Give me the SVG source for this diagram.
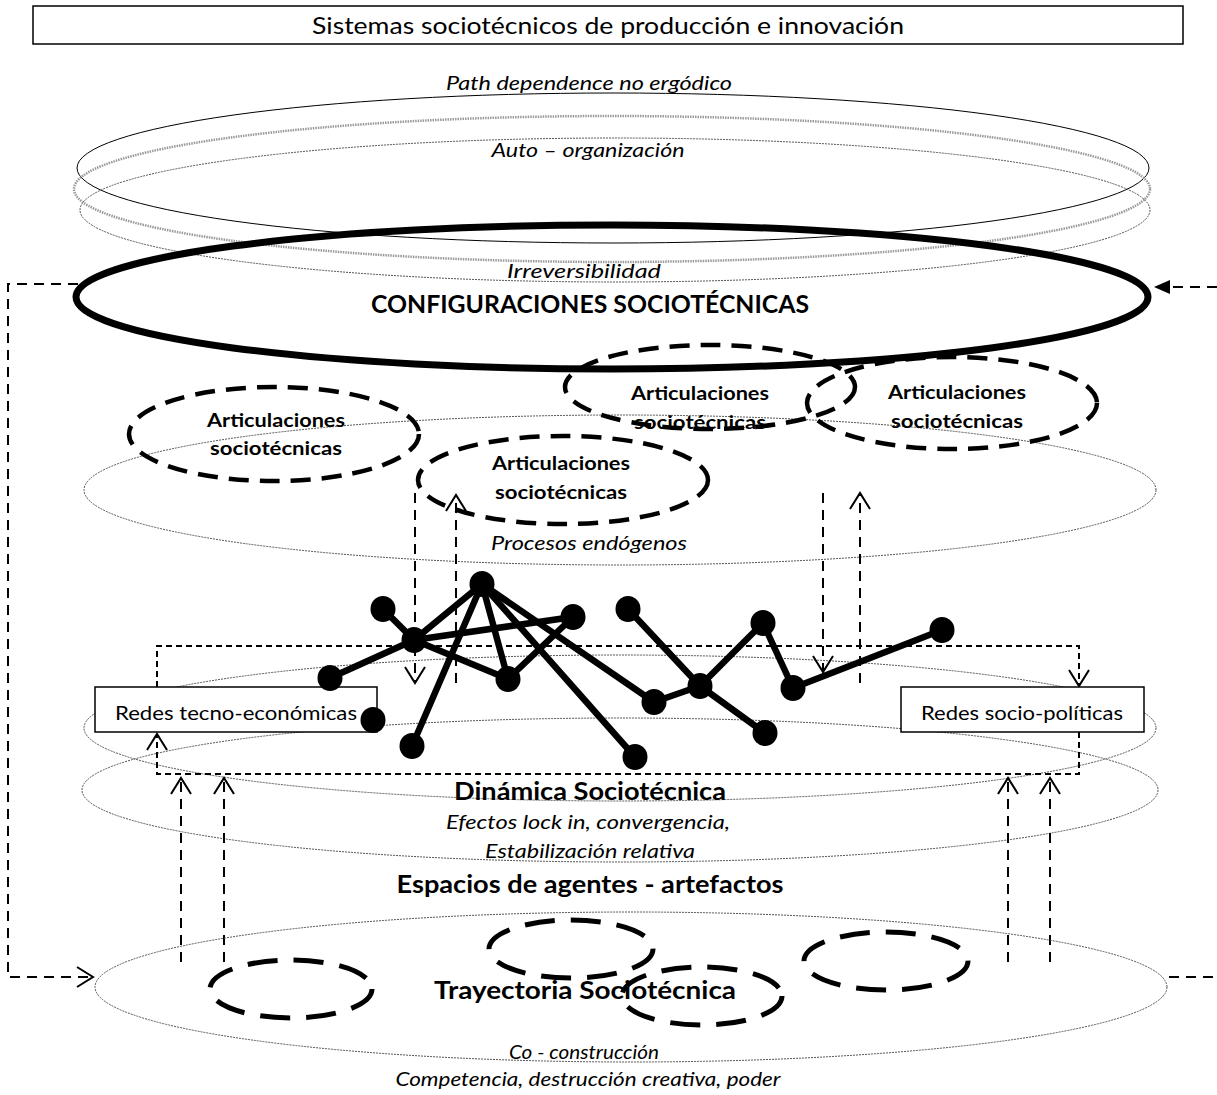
<svg xmlns="http://www.w3.org/2000/svg" width="1217" height="1095" viewBox="0 0 1217 1095">
<style>
text{font-family:Lato,"Open Sans","Liberation Sans",sans-serif;fill:#000;text-anchor:middle}
.it{font-style:italic;font-size:19px}
.bd{font-weight:bold;font-size:24px}
.ab{font-weight:bold;font-size:18px}
.lb{font-size:19px}
.thin{fill:none;stroke:#555;stroke-width:1;stroke-dasharray:2 1}
.solid{fill:none;stroke:#000;stroke-width:1}
.blur{fill:none;stroke:#999;stroke-width:2.5;stroke-dasharray:1.5 1}
.art{fill:none;stroke:#000;stroke-width:4.5;stroke-dasharray:20 11}
.bot{fill:none;stroke:#000;stroke-width:5;stroke-dasharray:30 16}
.box{fill:#fff;stroke:#000;stroke-width:1.5}
.dl{fill:none;stroke:#000;stroke-width:2;stroke-dasharray:10 7}
.ds{fill:none;stroke:#000;stroke-width:2;stroke-dasharray:6 4}
.edge{stroke:#000;stroke-width:6.5;stroke-linecap:round}
.nd{fill:#000}
</style>
<defs>
<marker id="open" viewBox="0 0 20 22" refX="18" refY="11" markerWidth="20" markerHeight="22" orient="auto" markerUnits="userSpaceOnUse">
<path d="M2,1 L18,11 L2,21" fill="none" stroke="#000" stroke-width="2"/>
</marker>
<marker id="fill" viewBox="0 0 16 14" refX="15" refY="7" markerWidth="16" markerHeight="14" orient="auto" markerUnits="userSpaceOnUse">
<path d="M0,0 L16,7 L0,14 z" fill="#000"/>
</marker>
</defs>
<rect width="1217" height="1095" fill="#fff"/>

<g id="title">
<rect x="33" y="6" width="1150" height="38" fill="none" stroke="#000" stroke-width="1.5"/>
<text x="608" y="34" font-size="23" textLength="592" lengthAdjust="spacingAndGlyphs">Sistemas sociotécnicos de producción e innovación</text>
</g>

<g id="layer-top">
<ellipse class="solid" cx="613" cy="168" rx="536" ry="75"/>
<ellipse class="blur" cx="612" cy="189" rx="538" ry="73"/>
<ellipse class="thin" cx="615" cy="210" rx="535" ry="72"/>
<text class="it" x="589" y="90" textLength="286" lengthAdjust="spacingAndGlyphs">Path dependence no ergódico</text>
<text class="it" x="588" y="157" textLength="193" lengthAdjust="spacingAndGlyphs">Auto – organización</text>
<text class="it" x="584" y="278" textLength="154" lengthAdjust="spacingAndGlyphs">Irreversibilidad</text>
</g>

<g id="configuraciones">
<ellipse cx="612" cy="297" rx="536" ry="72" fill="none" stroke="#000" stroke-width="7"/>
<text class="bd" x="590" y="313" textLength="438" lengthAdjust="spacingAndGlyphs">CONFIGURACIONES SOCIOTÉCNICAS</text>
</g>

<g id="procesos">
<ellipse class="thin" cx="620" cy="490" rx="536" ry="75"/>
<text class="it" x="589" y="550" textLength="196" lengthAdjust="spacingAndGlyphs">Procesos endógenos</text>
</g>

<g id="art1">
<ellipse class="art" cx="274" cy="434" rx="145" ry="47"/>
<text class="ab" x="276" y="427" textLength="138" lengthAdjust="spacingAndGlyphs">Articulaciones</text>
<text class="ab" x="276" y="455" textLength="132" lengthAdjust="spacingAndGlyphs">sociotécnicas</text>
</g>
<g id="art2">
<ellipse class="art" cx="563" cy="480" rx="145" ry="44"/>
<text class="ab" x="561" y="470" textLength="138" lengthAdjust="spacingAndGlyphs">Articulaciones</text>
<text class="ab" x="561" y="499" textLength="132" lengthAdjust="spacingAndGlyphs">sociotécnicas</text>
</g>
<g id="art3">
<ellipse class="art" cx="710" cy="387" rx="145" ry="42"/>
<text class="ab" x="700" y="400" textLength="138" lengthAdjust="spacingAndGlyphs">Articulaciones</text>
<text class="ab" x="700" y="429" textLength="132" lengthAdjust="spacingAndGlyphs">sociotécnicas</text>
</g>
<g id="art4">
<ellipse class="art" cx="952" cy="403" rx="145" ry="46"/>
<text class="ab" x="957" y="399" textLength="138" lengthAdjust="spacingAndGlyphs">Articulaciones</text>
<text class="ab" x="957" y="428" textLength="132" lengthAdjust="spacingAndGlyphs">sociotécnicas</text>
</g>

<g id="layer-redes">
<ellipse class="thin" cx="620" cy="728" rx="536" ry="73"/>
</g>
<g id="dinamica">
<ellipse class="thin" cx="620" cy="790" rx="538" ry="72"/>
<text class="bd" x="590" y="800" textLength="272" lengthAdjust="spacingAndGlyphs">Dinámica Sociotécnica</text>
<text class="it" x="588" y="829" textLength="284" lengthAdjust="spacingAndGlyphs">Efectos lock in, convergencia,</text>
<text class="it" x="590" y="858" textLength="210" lengthAdjust="spacingAndGlyphs">Estabilización relativa</text>
</g>
<g id="espacios">
<text class="bd" x="590" y="893" textLength="387" lengthAdjust="spacingAndGlyphs">Espacios de agentes - artefactos</text>
</g>

<g id="connectors">
<path class="dl" d="M78,284 H8 V977 H93" marker-end="url(#open)"/>
<path class="dl" d="M1217,287 H1155" marker-end="url(#fill)"/>
<path class="dl" d="M1169,977 H1217"/>
<path class="ds" d="M157,687 V646 H1079 V686" marker-end="url(#open)"/>
<path class="ds" d="M1079,732 V774 H157 V734" marker-end="url(#open)"/>
<path class="dl" d="M415,493 V683" marker-end="url(#open)"/>
<path class="dl" d="M456,683 V495" marker-end="url(#open)"/>
<path class="dl" d="M823,493 V672" marker-end="url(#open)"/>
<path class="dl" d="M860,683 V493" marker-end="url(#open)"/>
<path class="dl" d="M181,962 V778" marker-end="url(#open)"/>
<path class="dl" d="M224,962 V778" marker-end="url(#open)"/>
<path class="dl" d="M1008,962 V778" marker-end="url(#open)"/>
<path class="dl" d="M1050,962 V778" marker-end="url(#open)"/>
</g>

<g id="redes-tecno">
<rect class="box" x="95" y="687" width="282" height="45"/>
<text class="lb" x="236" y="720" textLength="242" lengthAdjust="spacingAndGlyphs">Redes tecno-económicas</text>
</g>
<g id="redes-socio">
<rect class="box" x="901" y="687" width="243" height="45"/>
<text class="lb" x="1022" y="720" textLength="202" lengthAdjust="spacingAndGlyphs">Redes socio-políticas</text>
</g>

<g id="network">
<g class="edge">
<line x1="383" y1="609" x2="414" y2="640"/>
<line x1="414" y1="640" x2="330" y2="678"/>
<line x1="414" y1="640" x2="482" y2="584"/>
<line x1="414" y1="640" x2="573" y2="617"/>
<line x1="414" y1="640" x2="508" y2="679"/>
<line x1="482" y1="584" x2="412" y2="746"/>
<line x1="482" y1="584" x2="508" y2="679"/>
<line x1="482" y1="584" x2="635" y2="757"/>
<line x1="482" y1="584" x2="654" y2="702"/>
<line x1="508" y1="679" x2="573" y2="617"/>
<line x1="628" y1="609" x2="700" y2="686"/>
<line x1="654" y1="702" x2="700" y2="686"/>
<line x1="700" y1="686" x2="763" y2="623"/>
<line x1="763" y1="623" x2="793" y2="688"/>
<line x1="793" y1="688" x2="942" y2="630"/>
<line x1="700" y1="686" x2="765" y2="733"/>
</g>
<g class="nd">
<ellipse cx="482" cy="584" rx="12.5" ry="13"/>
<ellipse cx="383" cy="609" rx="12.5" ry="13"/>
<ellipse cx="414" cy="640" rx="12.5" ry="13"/>
<ellipse cx="573" cy="617" rx="12.5" ry="13"/>
<ellipse cx="330" cy="678" rx="12.5" ry="13"/>
<ellipse cx="508" cy="679" rx="12.5" ry="13"/>
<ellipse cx="373" cy="720" rx="12.5" ry="13"/>
<ellipse cx="412" cy="746" rx="12.5" ry="13"/>
<ellipse cx="635" cy="757" rx="12.5" ry="13"/>
<ellipse cx="654" cy="702" rx="12.5" ry="13"/>
<ellipse cx="628" cy="609" rx="12.5" ry="13"/>
<ellipse cx="700" cy="686" rx="12.5" ry="13"/>
<ellipse cx="763" cy="623" rx="12.5" ry="13"/>
<ellipse cx="793" cy="688" rx="12.5" ry="13"/>
<ellipse cx="942" cy="630" rx="12.5" ry="13"/>
<ellipse cx="765" cy="733" rx="12.5" ry="13"/>
</g>
</g>

<g id="trayectoria">
<ellipse class="thin" cx="631" cy="987" rx="536" ry="75"/>
<ellipse class="bot" cx="291" cy="989" rx="81" ry="29"/>
<ellipse class="bot" cx="571" cy="949" rx="82" ry="29"/>
<ellipse class="bot" cx="886" cy="961" rx="82" ry="29"/>
<text class="bd" x="585" y="999" textLength="302" lengthAdjust="spacingAndGlyphs">Trayectoria Sociotécnica</text>
<ellipse class="bot" cx="702" cy="996" rx="80" ry="29"/>
<text class="it" x="584" y="1059" textLength="150" lengthAdjust="spacingAndGlyphs">Co - construcción</text>
<text class="it" x="588" y="1086" textLength="385" lengthAdjust="spacingAndGlyphs">Competencia, destrucción creativa, poder</text>
</g>
</svg>
